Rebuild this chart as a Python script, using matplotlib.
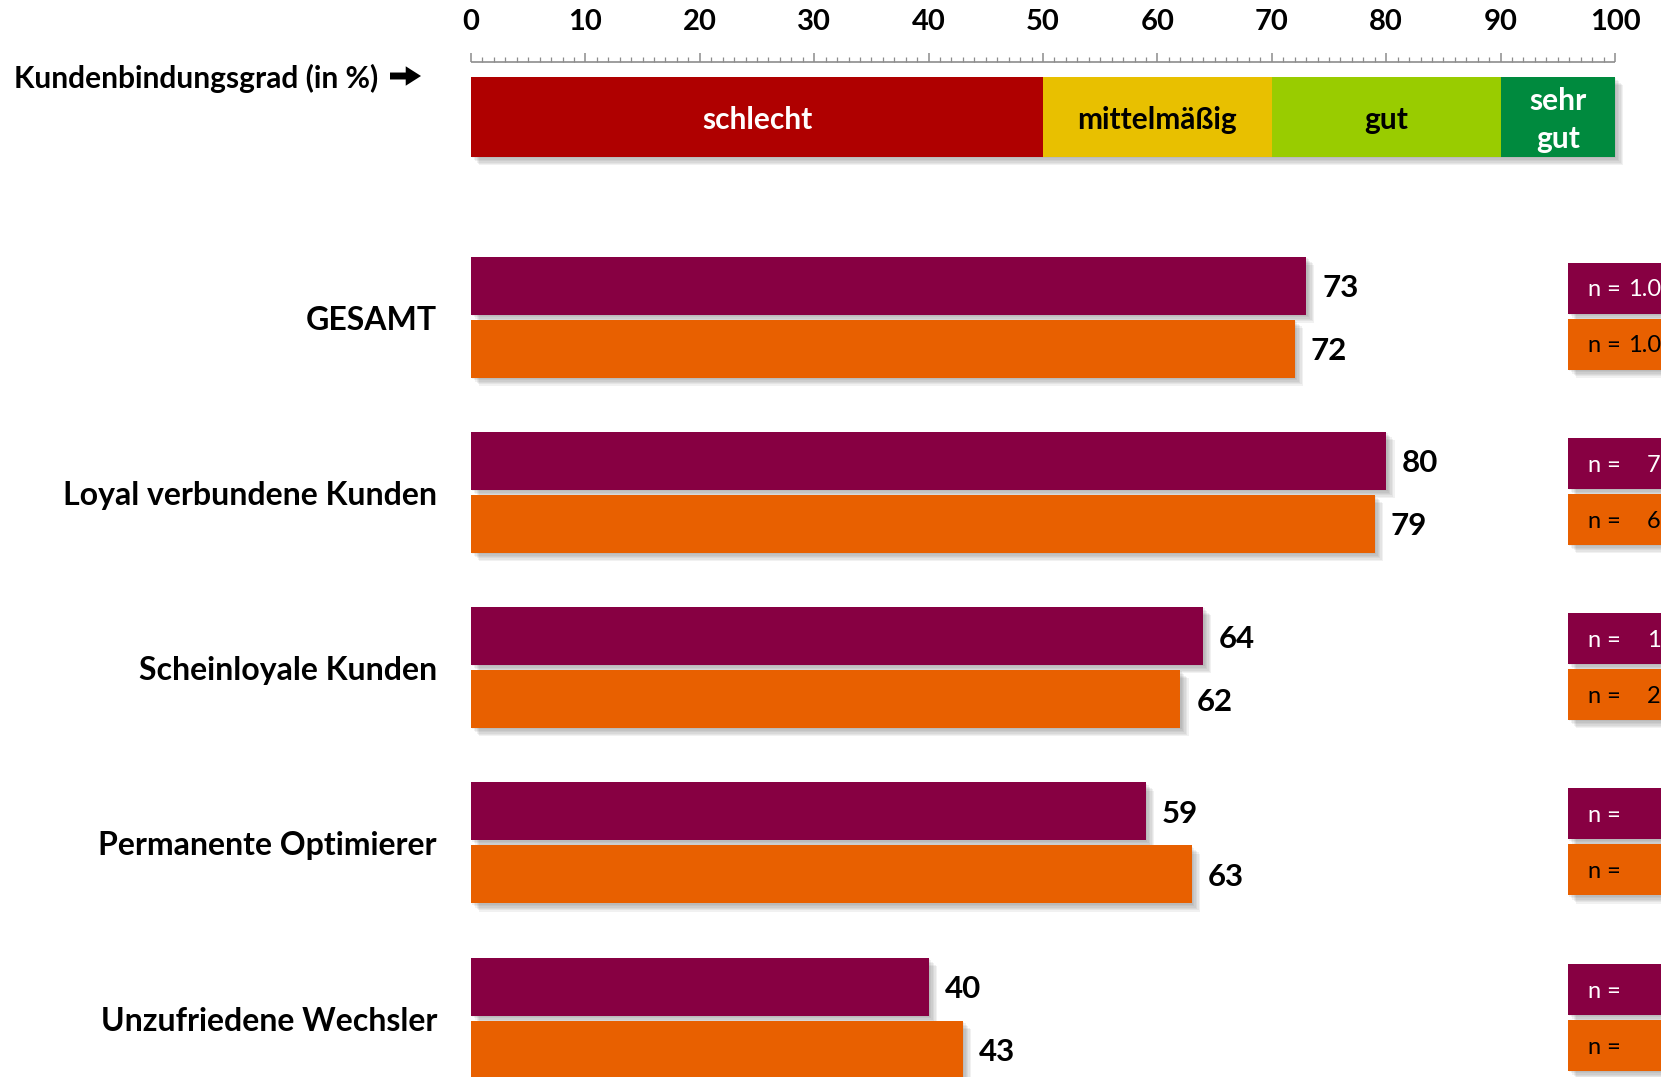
import matplotlib.pyplot as plt
import matplotlib.patheffects as pe

# daten
kategorien = ["GESAMT", "Loyal verbundene Kunden", "Scheinloyale Kunden",
              "Permanente Optimierer", "Unzufriedene Wechsler"]
werte_lila = [73, 80, 64, 59, 40]
werte_orange = [72, 79, 62, 63, 43]
n_lila = ["1.0", "7", "1", "", ""]
n_orange = ["1.0", "6", "2", "", ""]

stufen = ["schlecht", "mittelmäßig", "gut", "sehr\ngut"]
stufen_grenzen = [0, 50, 70, 90, 100]
stufen_farben = ["#AF0000", "#E8C000", "#99CC00", "#008A3E"]
stufen_textfarbe = ["white", "black", "black", "white"]

LILA = "#870042"
ORANGE = "#E86000"

plt.rcParams['font.family'] = ['Lato', 'DejaVu Sans']

W, H = 1661, 1077
x0 = 471.0         # pixel von 0 %
px_per = 11.44     # pixel pro %
def px2x(px):
    return (px - x0) / px_per

fig = plt.figure(figsize=(W / 100, H / 100), dpi=100)
ax = fig.add_axes([0, 0, 1, 1])
ax.set_xlim(px2x(0), px2x(W))
ax.set_ylim(H, 0)
ax.axis('off')

# weicher schatten nach rechts unten
schatten = [pe.SimplePatchShadow(offset=(k, -k), shadow_rgbFace='#555555', alpha=0.08)
            for k in range(1, 7)] + [pe.Normal()]

# lineal oben
ax.hlines(62, 0, 100, color='#8c8c8c', lw=1.2)
for t in range(0, 101):
    lang = (t % 10 == 0)
    ax.vlines(t, 62 - (9 if lang else 5), 62, color='#8c8c8c', lw=1.1 if lang else 0.9)
    if lang:
        ax.text(t, 22, str(t), ha='center', va='center', fontsize=21, fontweight='bold')

ax.text(px2x(14), 78, "Kundenbindungsgrad (in %)", ha='left', va='center',
        fontsize=21.5, fontweight='bold')
# dicker pfeil
ax.annotate("", xy=(px2x(421), 76), xytext=(px2x(390), 76),
            arrowprops=dict(arrowstyle="simple,head_width=1.4,head_length=1.1,tail_width=0.5",
                            mutation_scale=10, color='black', shrinkA=0, shrinkB=0, lw=0))

# skala
starts = stufen_grenzen[:-1]
breiten = [b - a for a, b in zip(stufen_grenzen[:-1], stufen_grenzen[1:])]
skala = ax.barh(117, breiten, left=starts, height=80, color=stufen_farben)
for s in skala:
    s.set_path_effects(schatten)
for s, b, lab, tc in zip(starts, breiten, stufen, stufen_textfarbe):
    ax.text(s + b / 2, 120, lab, ha='center', va='center', fontsize=21.5,
            fontweight='bold', color=tc, linespacing=1.45)

# balken
mitte0 = 317.0
abstand = 175.3
for i, (kat, vl, vo) in enumerate(zip(kategorien, werte_lila, werte_orange)):
    c = mitte0 + i * abstand
    b1 = ax.barh(c - 31.5, vl, height=58, color=LILA)
    b2 = ax.barh(c + 31.5, vo, height=58, color=ORANGE)
    for b in (b1[0], b2[0]):
        b.set_path_effects(schatten)
    ax.text(vl + 1.4, c - 29, str(vl), ha='left', va='center', fontsize=22.5, fontweight='bold')
    ax.text(vo + 1.4, c + 34, str(vo), ha='left', va='center', fontsize=22.5, fontweight='bold')
    ax.text(px2x(437), c + 3, kat, ha='right', va='center', fontsize=23, fontweight='bold')

    # n-kaesten rechts
    for yy, farbe, tc, nt in ((c - 29, LILA, 'white', n_lila[i]),
                              (c + 27, ORANGE, 'black', n_orange[i])):
        kasten = ax.barh(yy, px2x(W + 40) - px2x(1568), left=px2x(1568), height=51,
                         color=farbe)
        kasten[0].set_path_effects(schatten)
        ax.text(px2x(1588), yy + 2, "n =", ha='left', va='center', fontsize=17, color=tc)
        if nt:
            nx = 1628 if len(nt) > 1 else 1647
            ax.text(px2x(nx), yy + 2, nt, ha='left', va='center', fontsize=17, color=tc)

fig.savefig("out.png", dpi=100)
